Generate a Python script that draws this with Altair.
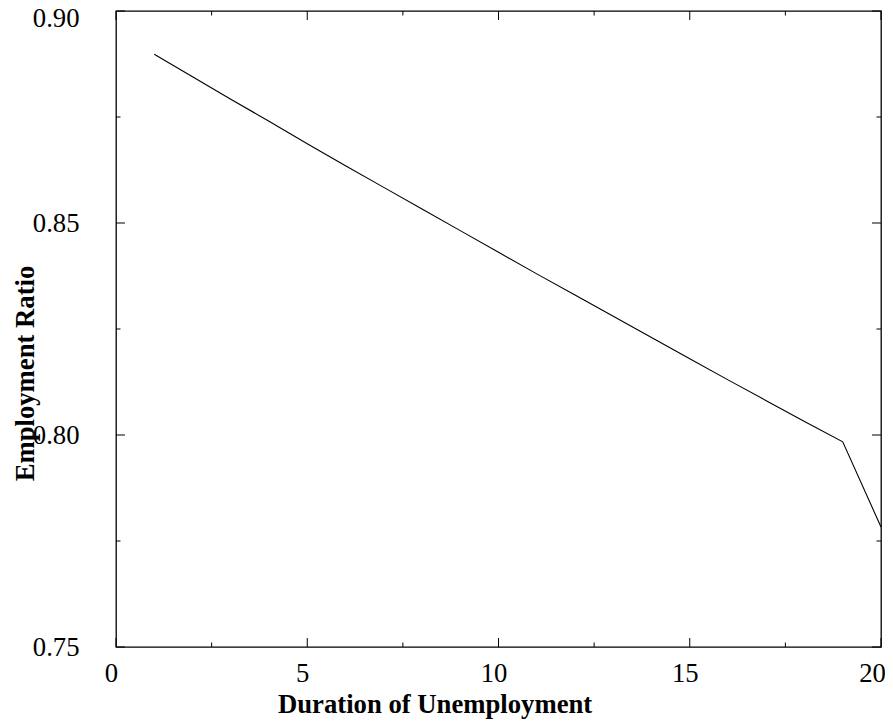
import altair as alt
import pandas as pd

# Data
duration = [1, 2, 3, 4, 5, 6, 7, 8, 9, 10, 11, 12, 13, 14, 15, 16, 17, 18, 19, 20]
ratio = [0.8898, 0.8845, 0.8792, 0.8740, 0.8687, 0.8635, 0.8584, 0.8533, 0.8482, 0.8431,
         0.8380, 0.8330, 0.8280, 0.8230, 0.8180, 0.8130, 0.8081, 0.8032, 0.7984, 0.7783]

x_major = [0, 5, 10, 15, 20]
x_minor = [2.5, 7.5, 12.5, 17.5]
y_major = [0.75, 0.80, 0.85, 0.90]
y_minor = [0.775, 0.825, 0.875]

W, H = 765, 636
MAJ, MIN = 9, 4.5
FONT = "Liberation Serif"
FS = 26.7

df = pd.DataFrame({"d": duration, "r": ratio})

xscale = alt.Scale(domain=[0, 20], nice=False, zero=False)
yscale = alt.Scale(domain=[0.75, 0.90], nice=False, zero=False)

xaxis = alt.Axis(
    title="Duration of Unemployment", values=x_major, format="d",
    ticks=False, domain=False, grid=False, labelFlush=False, labelOverlap=False,
    labelFont=FONT, labelFontSize=FS, labelColor="black", labelPadding=13,
    labelOffset={"condition": {"test": "datum.value >= 19.9", "value": -9}, "value": -5},
    titleFont=FONT, titleFontSize=FS, titleFontWeight="bold", titleColor="black",
    titleX=318.6, titleY=65, titleAlign="center", titleBaseline="alphabetic",
)
yaxis = alt.Axis(
    title="Employment Ratio", values=y_major, format=".2f",
    ticks=False, domain=False, grid=False, labelFlush=False, labelOverlap=False,
    labelFont=FONT, labelFontSize=FS, labelColor="black", labelPadding=37,
    labelOffset={"condition": {"test": "datum.value >= 0.899", "value": 7}, "value": 0},
    titleFont=FONT, titleFontSize=FS, titleFontWeight="bold", titleColor="black",
    titleX=-82.7, titleY=362, titleAlign="center", titleBaseline="alphabetic", titleAngle=-90,
)

line = alt.Chart(df).mark_line(color="black", strokeWidth=1.1).encode(
    x=alt.X("d:Q", scale=xscale, axis=xaxis),
    y=alt.Y("r:Q", scale=yscale, axis=yaxis),
)


def yticks(vals, length):
    d = pd.DataFrame({"r": vals})
    base = alt.Chart(d).mark_rule(color="black", strokeWidth=1)
    left = base.encode(y=alt.Y("r:Q", scale=yscale, axis=yaxis),
                       x=alt.value(0), x2=alt.value(length))
    right = base.encode(y=alt.Y("r:Q", scale=yscale, axis=yaxis),
                        x=alt.value(W - length), x2=alt.value(W))
    return [left, right]


def xticks(vals, length):
    d = pd.DataFrame({"d": vals})
    base = alt.Chart(d).mark_rule(color="black", strokeWidth=1)
    bottom = base.encode(x=alt.X("d:Q", scale=xscale, axis=xaxis),
                         y=alt.value(H - length), y2=alt.value(H))
    top = base.encode(x=alt.X("d:Q", scale=xscale, axis=xaxis),
                      y=alt.value(0), y2=alt.value(length))
    return [bottom, top]


layers = [line] + yticks(y_major, MAJ) + yticks(y_minor, MIN) + xticks(x_major, MAJ) + xticks(x_minor, MIN)

chart = alt.layer(*layers).properties(
    width=W, height=H,
    autosize=alt.AutoSizeParams(type="none"),
    padding={"left": 108, "top": 3, "right": 4, "bottom": 73},
    background="white",
).configure_view(stroke="black", strokeWidth=1.3)

chart.save("out.html", embed_options={"renderer": "svg", "actions": False})
